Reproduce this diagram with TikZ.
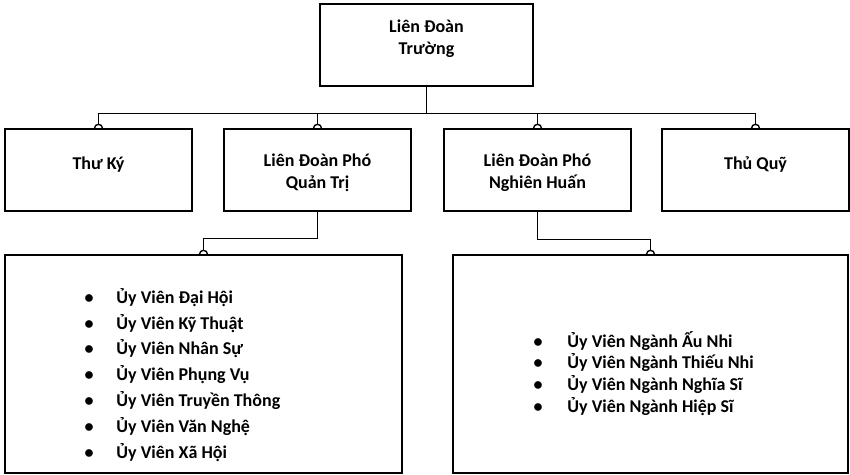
\documentclass[tikz,border=0pt]{standalone}
\usepackage{fontspec}
\setmainfont{Carlito}
\usetikzlibrary{positioning}

\newcommand{\bigfont}{\bfseries\fontsize{18}{22}\selectfont}

\tikzset{
  box/.style={draw, line width=1.4pt, fill=white, minimum width=187pt,
    minimum height=82pt, inner sep=0pt, align=center, font=\bigfont},
  onebox/.style={text height=12pt, text depth=14pt},
  twobox/.style={text height=40pt, text depth=4pt},
  bigbox/.style={draw, line width=1.4pt, fill=white, minimum height=218pt, inner sep=0pt},
  wire/.style={line width=1.4pt},
  itemlist/.style={inner sep=0pt, anchor=base west}
}
% connector ending in a small half circle on the box top
\newcommand{\jumpto}[2]{%
  \draw[wire] (#1) -| ([yshift=4pt]#2.north);
  \draw[wire] ([xshift=-4pt]#2.north) arc[start angle=180, end angle=0, radius=4pt];}

\begin{document}
\begin{tikzpicture}[x=1pt, y=-1pt]
  \useasboundingbox (0,0) rectangle (850,474);

  % top and first row
  \node[box, minimum width=213pt, text height=40pt, text depth=22pt] (truong) at (426.5,45) {Liên Đoàn\\Trường};
  \node[box, onebox] (thuky) at (98.5,170) {Thư Ký};
  \node[box, twobox] (quantri) at (317.5,170) {Liên Đoàn Phó\\Quản Trị};
  \node[box, twobox] (nghienhuan) at (537.5,170) {Liên Đoàn Phó\\Nghiên Huấn};
  \node[box, onebox] (thuquy) at (755.5,170) {Thủ Quỹ};

  % committee boxes
  \node[bigbox, minimum width=397pt] (uvqt) at (203.5,364) {};
  \node[bigbox, minimum width=395pt] (uvnh) at (650.5,364) {};

  \node[itemlist] (listqt) at ([xshift=80pt, yshift=-49pt]uvqt.north west) {%
    \bfseries\fontsize{18}{25.8}\selectfont
    \begin{tabular}[t]{@{}l@{\hspace{23pt}}l@{}}
      • & Ủy Viên Đại Hội\\
      • & Ủy Viên Kỹ Thuật\\
      • & Ủy Viên Nhân Sự\\
      • & Ủy Viên Phụng Vụ\\
      • & Ủy Viên Truyền Thông\\
      • & Ủy Viên Văn Nghệ\\
      • & Ủy Viên Xã Hội
    \end{tabular}};
  \node[itemlist] (listnh) at ([xshift=81pt, yshift=-93pt]uvnh.north west) {%
    \bfseries\fontsize{18}{21.6}\selectfont
    \begin{tabular}[t]{@{}l@{\hspace{25pt}}l@{}}
      • & Ủy Viên Ngành Ấu Nhi\\
      • & Ủy Viên Ngành Thiếu Nhi\\
      • & Ủy Viên Ngành Nghĩa Sĩ\\
      • & Ủy Viên Ngành Hiệp Sĩ
    \end{tabular}};

  % connectors
  \coordinate (bus) at ([yshift=-27pt]truong.south);
  \coordinate (qtbend) at ([yshift=-27pt]quantri.south);
  \coordinate (nhbend) at ([yshift=-28pt]nghienhuan.south);
  \draw[wire] (truong.south) -- (bus);
  \foreach \n in {thuky,quantri,nghienhuan,thuquy}
    \jumpto{bus}{\n}
  \draw[wire] (quantri.south) -- (qtbend);
  \jumpto{qtbend}{uvqt}
  \draw[wire] (nghienhuan.south) -- (nhbend);
  \jumpto{nhbend}{uvnh}
\end{tikzpicture}
\end{document}
